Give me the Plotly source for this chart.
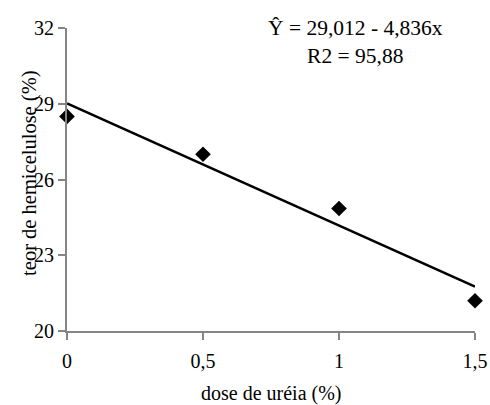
import plotly.graph_objects as go

# Urea dose (%) and measured hemicellulose content (%)
dose = [0, 0.5, 1, 1.5]
hemicelulose = [28.5, 27.0, 24.85, 21.2]

# Fitted regression: Y = 29.012 - 4.836x
intercept = 29.012
slope = -4.836
fit_x = [0, 1.5]
fit_y = [intercept + slope * v for v in fit_x]

x_ticks = [0, 0.5, 1, 1.5]
x_tick_labels = ["0", "0,5", "1", "1,5"]
y_ticks = [20, 23, 26, 29, 32]
y_tick_labels = ["20", "23", "26", "29", "32"]

font_family = "Liberation Serif"
axis_color = "#858585"

fig = go.Figure()
fig.add_trace(go.Scatter(
    x=fit_x, y=fit_y, mode="lines",
    line=dict(color="black", width=2.5),
    hoverinfo="skip", showlegend=False,
))
fig.add_trace(go.Scatter(
    x=dose, y=hemicelulose, mode="markers",
    marker=dict(symbol="diamond", size=12, color="black"),
    showlegend=False, cliponaxis=False,
))

fig.update_layout(
    width=490, height=405,
    margin=dict(l=67, r=15, t=28, b=74),
    paper_bgcolor="white", plot_bgcolor="white",
    font=dict(family=font_family, size=20, color="black"),
    xaxis=dict(
        range=[0, 1.5], tickvals=x_ticks, ticktext=x_tick_labels,
        showgrid=False, zeroline=False, automargin=False,
        showline=True, linecolor=axis_color, linewidth=2,
        ticks="outside", ticklen=7, tickwidth=1.5, tickcolor=axis_color,
        ticklabelstandoff=4,
        tickfont=dict(family=font_family, size=20),
    ),
    yaxis=dict(
        range=[20, 32], tickvals=y_ticks, ticktext=y_tick_labels,
        showgrid=False, zeroline=False, automargin=False,
        showline=True, linecolor=axis_color, linewidth=2,
        ticks="outside", ticklen=7, tickwidth=1.5, tickcolor=axis_color,
        tickfont=dict(family=font_family, size=20),
    ),
    annotations=[
        dict(text="dose de uréia (%)", xref="paper", yref="paper",
             x=0.5, y=-0.207, xanchor="center", yanchor="middle",
             showarrow=False, font=dict(family=font_family, size=20)),
        dict(text="teor de hemicelulose (%)", xref="paper", yref="paper",
             x=-0.092, y=0.52, xanchor="center", yanchor="middle",
             textangle=-90, showarrow=False, font=dict(family=font_family, size=20.5)),
        dict(text="Ŷ = 29,012 - 4,836x<br>R2 = 95,88", xref="paper", yref="paper",
             x=0.706, y=1.047, xanchor="center", yanchor="top",
             align="center", showarrow=False, font=dict(family=font_family, size=21.5)),
    ],
)

fig.write_html("out.html")
